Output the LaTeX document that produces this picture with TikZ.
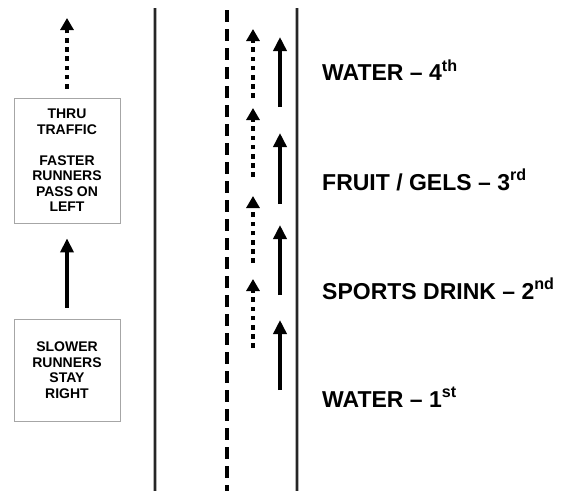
\documentclass[tikz,border=0pt]{standalone}
\usepackage{fontspec}
\setmainfont{Liberation Sans}
\usetikzlibrary{arrows.meta,positioning,calc}
\tikzset{
  signbox/.style={draw=gray!70, line width=0.8pt, align=center,
                  font=\fontsize{14}{15.5}\selectfont\bfseries,
                  minimum width=106pt, inner sep=0pt},
  station/.style={anchor=base west, inner sep=0pt,
                  font=\fontsize{23}{26}\selectfont\bfseries},
  SA/.style={-{Triangle[length=14pt,width=13pt]}, line width=4pt},
  DA/.style={-{Triangle[length=12pt,width=13pt]}, line width=4.6pt,
             dash pattern=on 4.6pt off 4.6pt},
  curb/.style={draw=gray!60, double=black!85, double distance=1.6pt,
               line width=0.9pt},
  lane/.style={line width=4pt, dash pattern=on 12pt off 7pt}
}

\begin{document}
\begin{tikzpicture}[x=1pt, y=-1pt]
\useasboundingbox (0,0) rectangle (571,491);

% ---- left: signs ----
\node[signbox, minimum height=125pt] (thru) at (67,160.5)
    {THRU\\TRAFFIC\\[15.5pt]FASTER\\RUNNERS\\PASS ON\\LEFT};
\node[signbox, minimum height=102pt] (slow) at (67,370)
    {SLOWER\\RUNNERS\\STAY\\RIGHT};
\coordinate (exit) at (67,18);

\draw[SA, shorten <=11pt, shorten >=15pt] (slow) -- (thru);
\draw[DA, shorten <=9pt] (thru) -- (exit);

% ---- road ----
\coordinate (lcA) at (155,8);   \coordinate (lcB) at (155,491);
\coordinate (rcA) at (297,8);   \coordinate (rcB) at (297,491);
\coordinate (midA) at (227,10); \coordinate (midB) at (227,491);

\draw[curb] (lcA) -- (lcB);
\draw[curb] (rcA) -- (rcB);
\draw[lane] (midA) -- (midB);

% ---- lane arrows ----
\foreach \tail/\tip [count=\i] in {98/29,177/108,263/196,348/279} {
  \coordinate (pa\i) at (253,\tail);
  \coordinate (pb\i) at (253,\tip);
  \draw[DA] (pa\i) -- (pb\i);
}
\foreach \tail/\tip [count=\i] in {107/37,204/133,295/225,390/320} {
  \coordinate (sa\i) at (280,\tail);
  \coordinate (sb\i) at (280,\tip);
  \draw[SA] (sa\i) -- (sb\i);
}

% ---- aid stations ----
\node[station] (w4) at (322,80.7) {WATER -- 4\textsuperscript{th}};
\node[station] (fg) at (322,190)  {FRUIT / GELS -- 3\textsuperscript{rd}};
\node[station] (sd) at (322,299)  {SPORTS DRINK -- 2\textsuperscript{nd}};
\node[station] (w1) at (322,407)  {WATER -- 1\textsuperscript{st}};

\end{tikzpicture}
\end{document}
